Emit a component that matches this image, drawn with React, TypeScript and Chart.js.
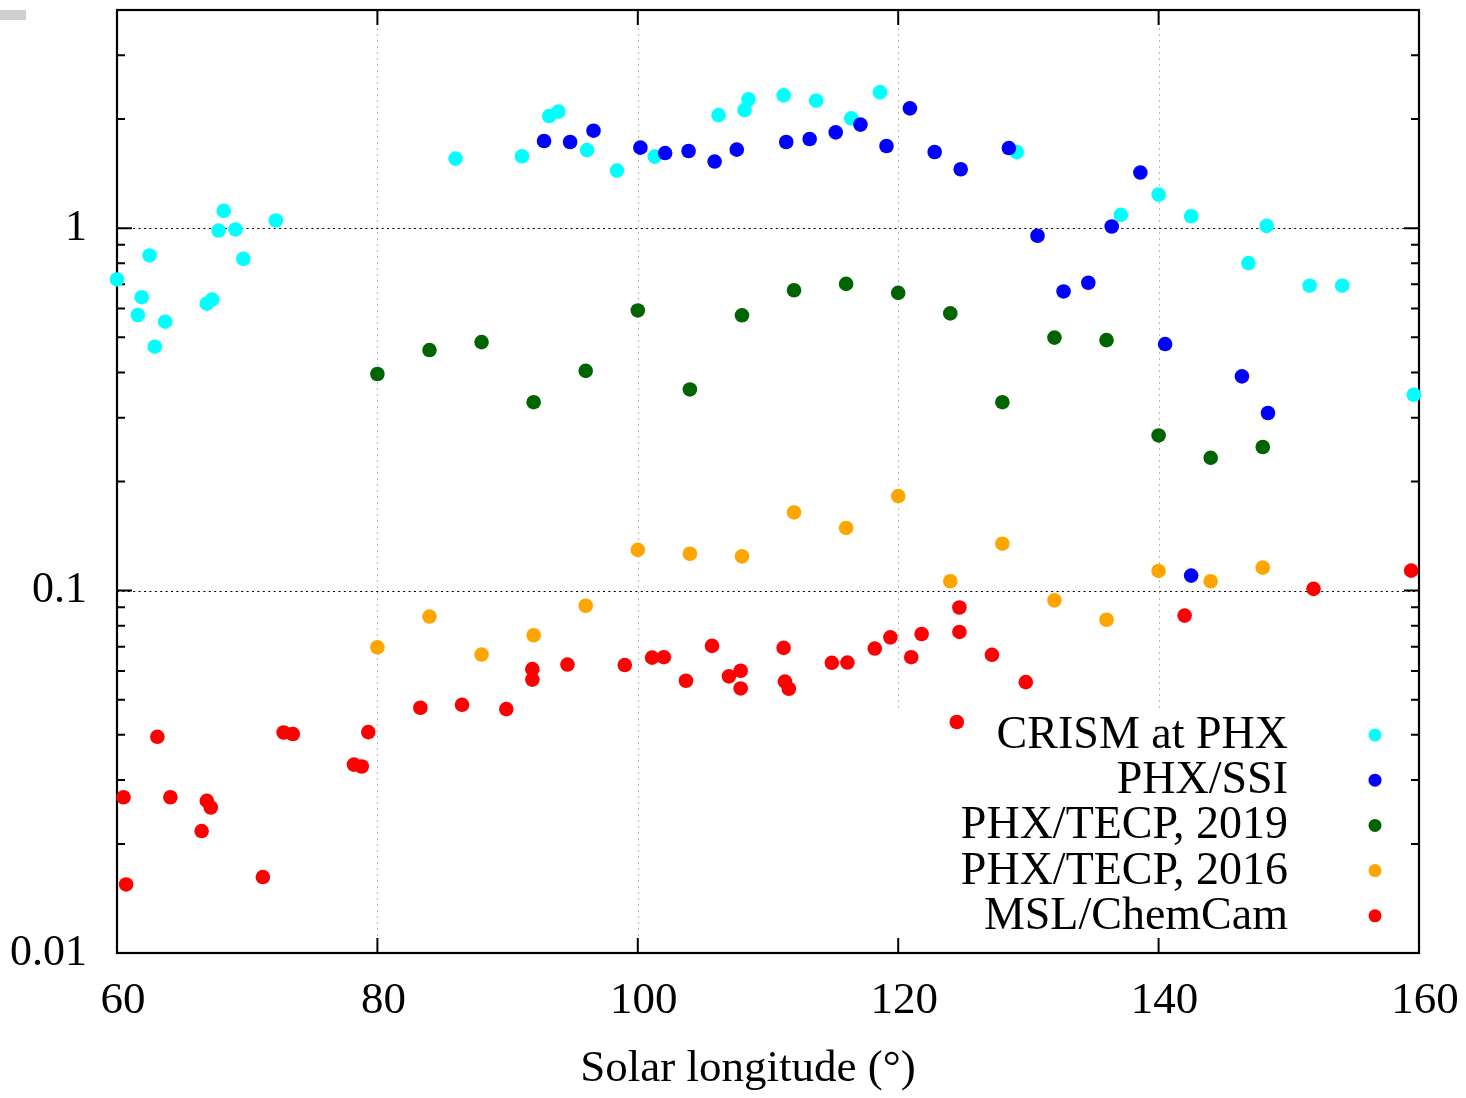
import { useEffect, useRef } from 'react';
import { Chart, registerables } from 'chart.js';

Chart.register(...registerables);

// ---- data ----
const seriesNames = ['CRISM at PHX', 'PHX/SSI', 'PHX/TECP, 2019', 'PHX/TECP, 2016', 'MSL/ChemCam'];
const seriesColors = ['#00ffff', '#0000ff', '#006400', '#ffa500', '#ff0000'];

const crismX = [60.0, 61.6, 61.9, 62.5, 62.9, 63.7, 66.9, 67.3, 67.8, 68.2, 69.1, 69.7, 72.2, 86.0, 91.1, 93.2, 93.9, 96.1, 98.4, 101.3, 106.2, 108.2, 108.5, 111.2, 113.7, 116.4, 118.6, 129.1, 137.1, 140.0, 142.5, 146.9, 148.3, 151.6, 154.1, 159.6];
const crismY = [0.722, 0.576, 0.645, 0.841, 0.471, 0.552, 0.619, 0.635, 0.985, 1.116, 0.992, 0.823, 1.050, 1.556, 1.579, 2.039, 2.097, 1.643, 1.442, 1.576, 2.051, 2.118, 2.267, 2.325, 2.248, 2.009, 2.370, 1.623, 1.088, 1.238, 1.079, 0.801, 1.015, 0.694, 0.694, 0.347];

const ssiX = [92.8, 94.8, 96.6, 100.2, 102.1, 103.9, 105.9, 107.6, 111.4, 113.2, 115.2, 117.1, 119.1, 120.9, 122.8, 124.8, 128.5, 130.7, 132.7, 134.6, 136.4, 138.6, 140.5, 142.5, 146.4, 148.4];
const ssiY = [1.740, 1.729, 1.858, 1.668, 1.612, 1.633, 1.527, 1.647, 1.729, 1.762, 1.838, 1.931, 1.686, 2.141, 1.623, 1.454, 1.664, 0.953, 0.669, 0.707, 1.011, 1.424, 0.479, 0.110, 0.390, 0.309];

const tecpX = [80, 84, 88, 92, 96, 100, 104, 108, 112, 116, 120, 124, 128, 132, 136, 140, 144, 148];
const tecp2019Y = [0.396, 0.461, 0.485, 0.331, 0.404, 0.593, 0.359, 0.575, 0.674, 0.702, 0.663, 0.582, 0.331, 0.499, 0.491, 0.268, 0.2325, 0.249];
const tecp2016Y = [0.0697, 0.0848, 0.0666, 0.0753, 0.0908, 0.1295, 0.1264, 0.1243, 0.1643, 0.1489, 0.1823, 0.1061, 0.1347, 0.0940, 0.0831, 0.1133, 0.1061, 0.1157];

const chemcamX = [60.5, 60.7, 63.1, 64.1, 66.5, 66.9, 67.2, 71.2, 72.8, 73.5, 78.2, 78.8, 79.3, 83.3, 86.5, 89.9, 91.9, 91.9, 94.6, 99.0, 101.1, 102.0, 103.7, 105.7, 107.0, 107.9, 107.9, 111.2, 111.3, 111.6, 114.9, 116.1, 118.2, 119.4, 121.0, 121.8, 124.5, 124.7, 124.7, 127.2, 129.8, 142.0, 151.9, 159.4];
const chemcamY = [0.0269, 0.01546, 0.0395, 0.0269, 0.0217, 0.0263, 0.0252, 0.0162, 0.0406, 0.0402, 0.0331, 0.0327, 0.0407, 0.0475, 0.0484, 0.0471, 0.0607, 0.0568, 0.0625, 0.0623, 0.0653, 0.0655, 0.0564, 0.0704, 0.0580, 0.0601, 0.0537, 0.0695, 0.0561, 0.0536, 0.0632, 0.0633, 0.0692, 0.0743, 0.0655, 0.0759, 0.0434, 0.0898, 0.0769, 0.0665, 0.0559, 0.0853, 0.1011, 0.1135];

const xTickValues = [60, 80, 100, 120, 140, 160];
const yTickValues = [0.01, 0.1, 1];
const yMinorTicks = [0.02, 0.03, 0.04, 0.05, 0.06, 0.07, 0.08, 0.09, 0.2, 0.3, 0.4, 0.5, 0.6, 0.7, 0.8, 0.9, 2, 3, 4];
const xGridValues = [80, 100, 120, 140];
const yGridValues = [0.1, 1];
const xTitle = 'Solar longitude (°)';

const FONT = "'Liberation Serif', 'Times New Roman', Times, serif";

const pairs = (xs: number[], ys: number[]) => xs.map((x, i) => ({ x, y: ys[i] }));

const framePlugin = {
  id: 'gnuFrame',
  beforeDatasetsDraw(chart: any) {
    const { ctx, chartArea, scales } = chart;
    const { left, right, top, bottom } = chartArea;
    const xs = scales.x;
    const ys = scales.y;
    const legendTop = bottom - 241;
    const legendLeft = right - 530;
    ctx.save();
    // vertical grid
    ctx.strokeStyle = '#b8b8b8';
    ctx.lineWidth = 1;
    ctx.setLineDash([2, 4]);
    xGridValues.forEach((v) => {
      const px = Math.round(xs.getPixelForValue(v)) + 0.5;
      ctx.beginPath();
      ctx.moveTo(px, top);
      ctx.lineTo(px, px > legendLeft ? legendTop : bottom);
      ctx.stroke();
    });
    // horizontal grid
    ctx.strokeStyle = '#000';
    ctx.lineWidth = 1.2;
    ctx.setLineDash([2, 3.4]);
    yGridValues.forEach((v) => {
      const py = Math.round(ys.getPixelForValue(v)) + 0.5;
      ctx.beginPath();
      ctx.moveTo(left, py);
      ctx.lineTo(right, py);
      ctx.stroke();
    });
    ctx.setLineDash([]);
    // ticks
    ctx.strokeStyle = '#000';
    ctx.lineWidth = 2;
    ctx.beginPath();
    xTickValues.forEach((v) => {
      const px = xs.getPixelForValue(v);
      ctx.moveTo(px, bottom);
      ctx.lineTo(px, bottom - 15);
      ctx.moveTo(px, top);
      ctx.lineTo(px, top + 15);
    });
    yTickValues.forEach((v) => {
      const py = ys.getPixelForValue(v);
      ctx.moveTo(left, py);
      ctx.lineTo(left + 15, py);
      ctx.moveTo(right, py);
      ctx.lineTo(right - 15, py);
    });
    yMinorTicks.forEach((v) => {
      const py = ys.getPixelForValue(v);
      ctx.moveTo(left, py);
      ctx.lineTo(left + 8, py);
      ctx.moveTo(right, py);
      ctx.lineTo(right - 8, py);
    });
    ctx.stroke();
    // frame
    ctx.lineWidth = 2.2;
    ctx.strokeRect(left, top, right - left, bottom - top);
    ctx.restore();
  },
  afterDatasetsDraw(chart: any) {
    const { ctx, chartArea } = chart;
    const { left, right, bottom } = chartArea;
    ctx.save();
    ctx.font = `46px ${FONT}`;
    ctx.fillStyle = '#000';
    ctx.textAlign = 'right';
    ctx.textBaseline = 'middle';
    chart.data.datasets.forEach((ds: any, i: number) => {
      const cy = bottom - 218 + i * 45.2;
      ctx.fillStyle = '#000';
      ctx.fillText(ds.label, right - 131, cy + 1);
      ctx.beginPath();
      ctx.fillStyle = ds.backgroundColor;
      ctx.arc(right - 44, cy, 6.5, 0, Math.PI * 2);
      ctx.fill();
    });
    // x-axis title
    ctx.font = `45px ${FONT}`;
    ctx.fillStyle = '#000';
    ctx.textAlign = 'center';
    ctx.fillText(xTitle, (left + right) / 2 - 20, bottom + 116);
    ctx.restore();
  },
};

export default function App() {
  const ref = useRef<HTMLCanvasElement>(null);

  useEffect(() => {
    if (!ref.current) return;
    Chart.defaults.font.family = FONT;
    Chart.defaults.color = '#000';
    const seriesData = [
      pairs(crismX, crismY),
      pairs(ssiX, ssiY),
      pairs(tecpX, tecp2019Y),
      pairs(tecpX, tecp2016Y),
      pairs(chemcamX, chemcamY),
    ];
    const chart = new Chart(ref.current, {
      type: 'scatter',
      data: {
        datasets: seriesData.map((d, i) => ({
          label: seriesNames[i],
          data: d,
          backgroundColor: seriesColors[i],
          borderColor: seriesColors[i],
          pointRadius: 7.3,
          pointHoverRadius: 7.3,
          pointBorderWidth: 0,
          clip: false as any,
          order: 5 - i,
        })),
      },
      options: {
        responsive: false,
        animation: false,
        devicePixelRatio: 1,
        events: [],
        layout: { padding: { top: 10, right: 47, left: 0, bottom: 0 } },
        plugins: { legend: { display: false }, tooltip: { enabled: false } },
        scales: {
          x: {
            type: 'linear',
            min: 60,
            max: 160,
            grid: { display: false, drawTicks: false },
            border: { display: false },
            afterBuildTicks: (s: any) => {
              s.ticks = xTickValues.map((v) => ({ value: v }));
            },
            ticks: {
              padding: 21,
              labelOffset: 6,
              autoSkip: false,
              maxRotation: 0,
              font: { size: 45, family: FONT },
              color: '#000',
              callback: (v: any) => String(v),
            },
            afterFit: (s: any) => {
              s.height = 145;
              s.paddingLeft = 0;
              s.paddingRight = 0;
              s.paddingTop = 0;
              s.paddingBottom = 0;
            },
          },
          y: {
            type: 'logarithmic',
            min: 0.01,
            max: 4,
            grid: { display: false, drawTicks: false },
            border: { display: false },
            afterBuildTicks: (s: any) => {
              s.ticks = yTickValues.map((v) => ({ value: v }));
            },
            ticks: {
              padding: 30,
              autoSkip: false,
              font: { size: 44, family: FONT },
              color: '#000',
              callback: (v: any) => String(v),
            },
            afterFit: (s: any) => {
              s.width = 117;
              s.paddingLeft = 0;
              s.paddingRight = 0;
              s.paddingTop = 0;
              s.paddingBottom = 0;
            },
          },
        },
      },
      plugins: [framePlugin],
    } as any);
    return () => chart.destroy();
  }, []);

  return (
    <div style={{ position: 'fixed', left: 0, top: 0, width: 1466, height: 1098, background: '#fff' }}>
      <div style={{ position: 'absolute', left: 0, top: 10, width: 26, height: 10, background: '#cfcfcf' }} />
      <canvas
        ref={ref}
        width={1466}
        height={1098}
        style={{ position: 'absolute', left: 0, top: 0, width: 1466, height: 1098, display: 'block' }}
      />
    </div>
  );
}
